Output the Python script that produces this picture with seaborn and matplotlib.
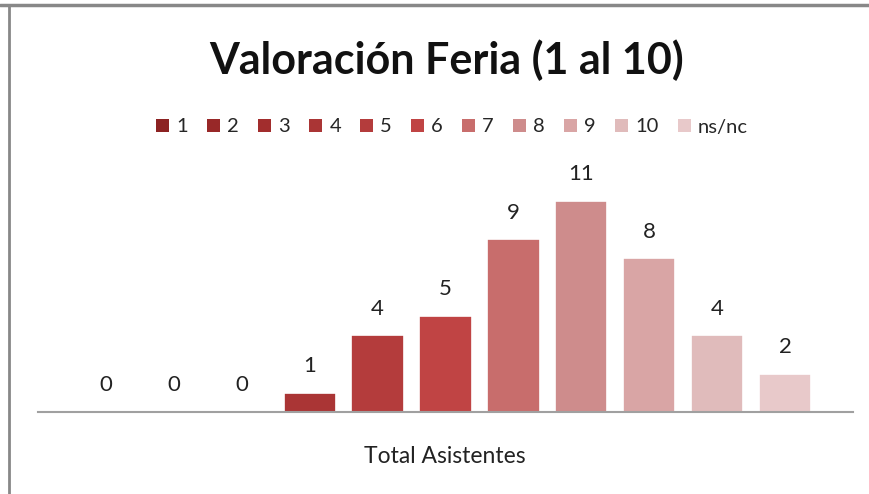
import matplotlib
matplotlib.use("Agg")
import matplotlib.pyplot as plt
import seaborn as sns
from matplotlib.patches import Patch
from matplotlib.lines import Line2D

# --- data ---
categories = ["1", "2", "3", "4", "5", "6", "7", "8", "9", "10", "ns/nc"]
values = [0, 0, 0, 1, 4, 5, 9, 11, 8, 4, 2]
colors = ["#8C2222", "#982828", "#A22D2D", "#AA3535", "#B43C3C", "#C04444",
          "#C86D6C", "#CE8C8C", "#D9A5A5", "#E0BBBB", "#E8C9CA"]

title = "Valoración Feria (1 al 10)"
xlabel = "Total Asistentes"

sns.set_theme(style="white")
plt.rcParams["font.family"] = ["Lato", "DejaVu Sans"]

fig = plt.figure(figsize=(8.69, 4.94), dpi=100)
ax = fig.add_axes([38 / 869, 1 - 412 / 494, (853 - 38) / 869, (412 - 172) / 494])

palette = dict(zip(categories, colors))
sns.barplot(x=categories, y=values, hue=categories, palette=palette,
            legend=False, width=0.77, edgecolor="white", linewidth=1.2,
            saturation=1, ax=ax)

for cont in ax.containers:
    ax.bar_label(cont, padding=12, fontsize=16, color="#222222")

ax.set_xlim(-1, 11)
ax.set_ylim(0, 12.5)
ax.set_xticks([])
ax.set_yticks([])
for s in ["top", "right", "left"]:
    ax.spines[s].set_visible(False)
ax.spines["bottom"].set_color("#A0A0A0")
ax.spines["bottom"].set_linewidth(1.5)

fig.text(447 / 869, 1 - 60 / 494, title, ha="center", va="center",
         fontsize=31, fontweight="bold", color="#111111")
fig.text(445 / 869, 1 - 456 / 494, xlabel, ha="center", va="center",
         fontsize=16.5, color="#222222")

handles = [Patch(facecolor=c, edgecolor="none") for c in colors]
fig.legend(handles, categories, loc="center", bbox_to_anchor=(452 / 869, 1 - 127 / 494),
           ncol=len(categories), frameon=False, fontsize=14.5,
           handlelength=0.65, handleheight=0.65, handletextpad=0.35,
           columnspacing=0.95)

# chart frame (top and left edges visible)
fig.add_artist(Line2D([0, 1], [1 - 5 / 494, 1 - 5 / 494], color="#888888", lw=2.5,
                      transform=fig.transFigure))
fig.add_artist(Line2D([9 / 869, 9 / 869], [0, 1 - 5 / 494], color="#888888", lw=2,
                      transform=fig.transFigure))

fig.savefig("out.png", dpi=100)
